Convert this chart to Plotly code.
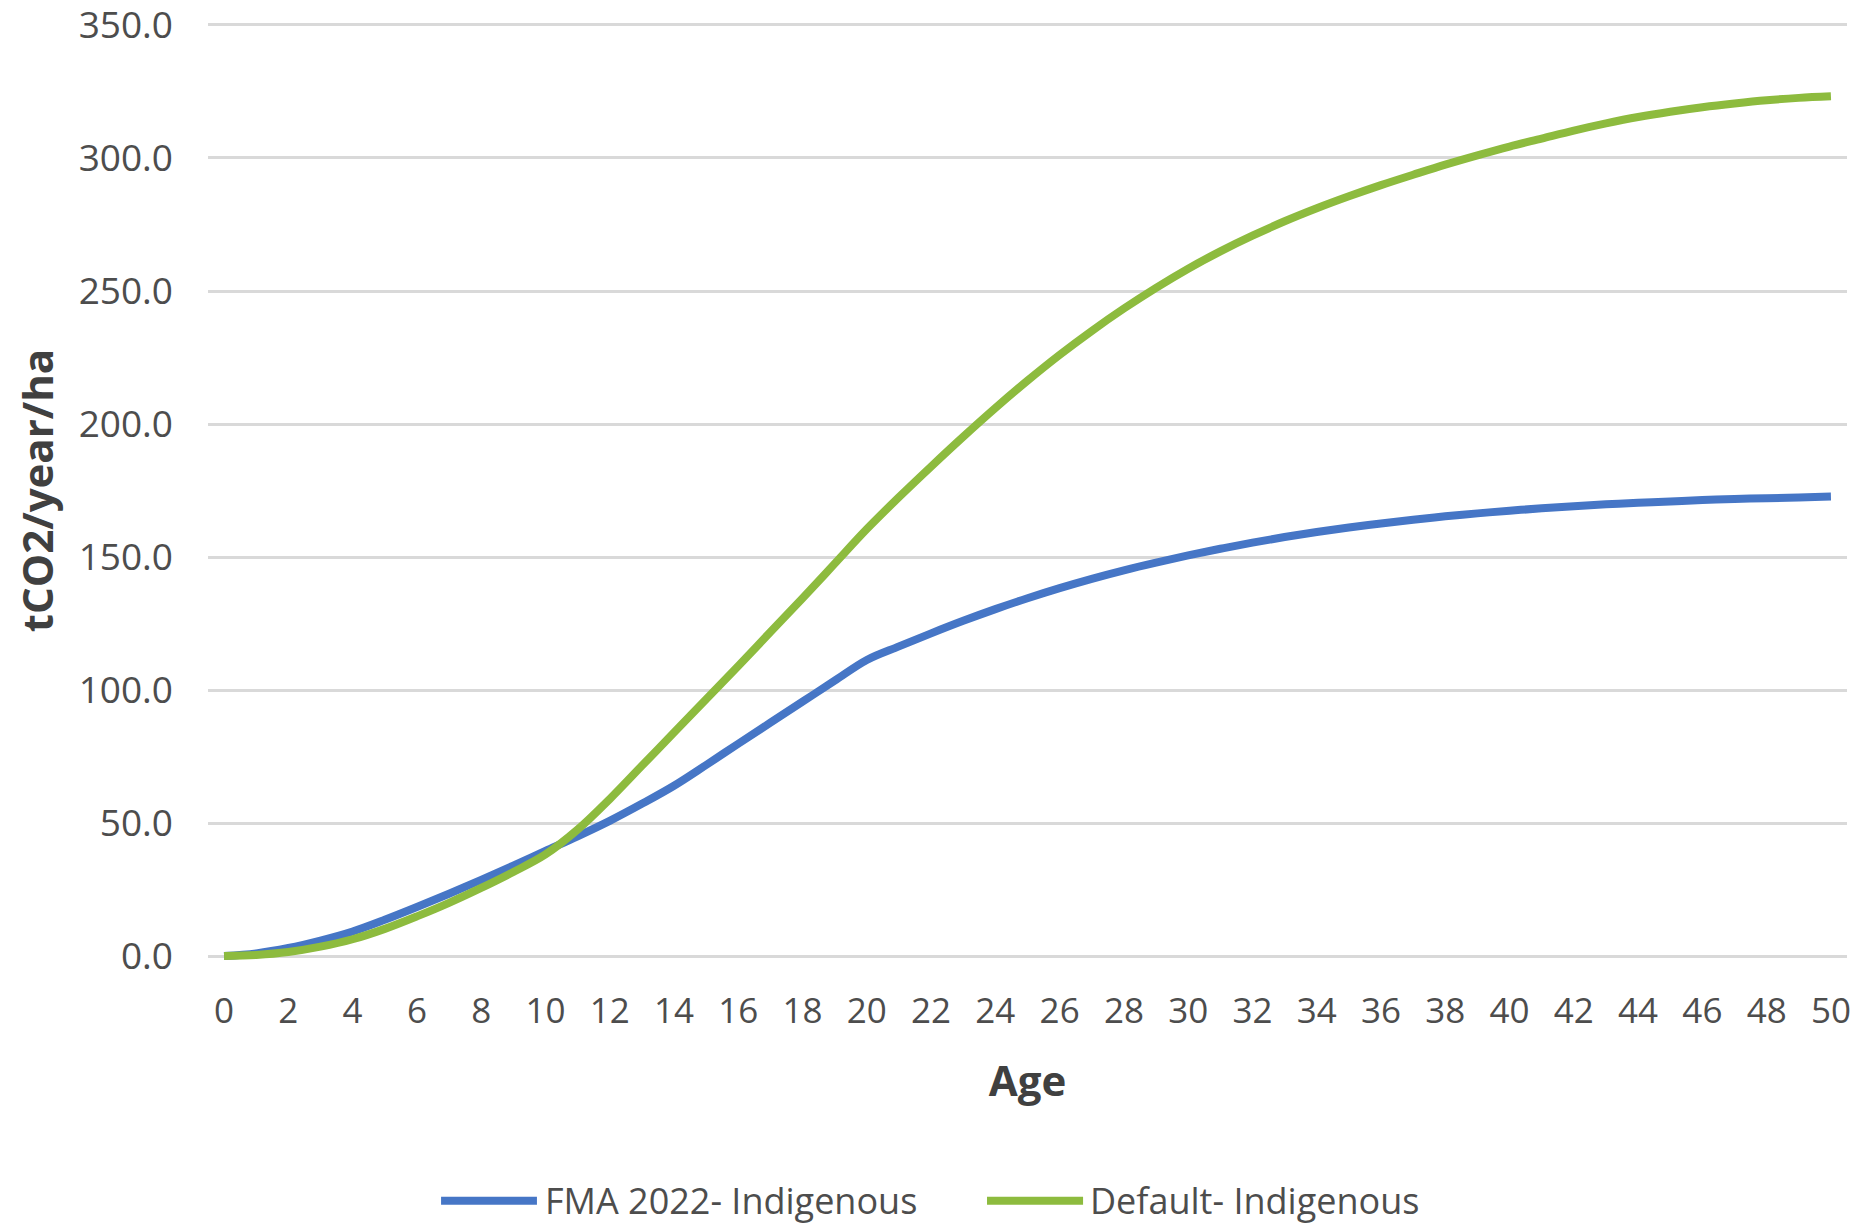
import plotly.graph_objects as go

ages = list(range(0, 51))

fma_2022_indigenous = [
    0.0, 1.0, 3.0, 5.8, 9.2, 13.6, 18.4, 23.4, 28.6, 34.0,
    39.5, 45.0, 50.8, 57.2, 64.0, 71.8, 79.8, 87.7, 95.6, 103.5,
    111.3, 116.4, 121.3, 126.0, 130.4, 134.5, 138.3, 141.8, 145.0, 147.9,
    150.6, 153.1, 155.4, 157.5, 159.4, 161.1, 162.6, 164.0, 165.3, 166.4,
    167.4, 168.3, 169.1, 169.8, 170.4, 170.9, 171.4, 171.8, 172.1, 172.4,
    172.7,
]

default_indigenous = [
    0.0, 0.4, 1.5, 3.5, 6.3, 10.2, 14.9, 20.0, 25.6, 31.6,
    38.2, 47.5, 59.0, 71.5, 84.0, 96.5, 109.0, 121.8, 134.5, 147.5,
    160.5, 172.5, 184.0, 195.2, 206.0, 216.3, 226.0, 235.0, 243.4, 251.2,
    258.4, 264.9, 270.8, 276.2, 281.1, 285.6, 289.8, 293.7, 297.5, 301.0,
    304.3, 307.3, 310.3, 313.0, 315.4, 317.4, 319.1, 320.5, 321.7, 322.6,
    323.2,
]

x_tick_vals = list(range(0, 51, 2))
y_tick_vals = [0, 50, 100, 150, 200, 250, 300, 350]
y_tick_text = [f"{v:.1f}" for v in y_tick_vals]

series_names = ["FMA 2022- Indigenous", "Default- Indigenous"]
series_colors = ["#4676C6", "#8DBB3E"]

FONT = "Open Sans, Lato, Liberation Sans, sans-serif"
TEXT_COLOR = "#4D4D4D"

fig = go.Figure()
for name, vals, col in zip(series_names, [fma_2022_indigenous, default_indigenous], series_colors):
    fig.add_trace(go.Scatter(
        x=ages, y=vals, name=name, mode="lines", showlegend=False,
        line=dict(color=col, width=8, shape="spline", smoothing=1),
    ))

# Manual legend (long line keys like the original), in paper coordinates
legend_y = -0.2565
legend_items = [
    (0.1422, 0.2007, 0.2044),
    (0.4753, 0.5339, 0.5369),
]
for (lx0, lx1, tx), name, col in zip(legend_items, series_names, series_colors):
    fig.add_shape(type="line", xref="paper", yref="paper",
                  x0=lx0, x1=lx1, y0=legend_y, y1=legend_y,
                  line=dict(color=col, width=8))
    fig.add_annotation(xref="paper", yref="paper", x=tx, y=legend_y,
                       xanchor="left", yanchor="middle", showarrow=False,
                       text=name, font=dict(family=FONT, size=36, color=TEXT_COLOR))

fig.update_layout(
    width=1870, height=1223,
    margin=dict(l=200, r=31, t=13, b=271, autoexpand=False),
    paper_bgcolor="white", plot_bgcolor="white",
    font=dict(family=FONT, size=36, color=TEXT_COLOR),
    showlegend=False,
)

fig.update_xaxes(
    range=[-0.5, 50.5],
    tickmode="array", tickvals=x_tick_vals, ticktext=[str(v) for v in x_tick_vals],
    showgrid=False, zeroline=False, showline=False, ticks="",
    ticklabelstandoff=27, ticklabeloverflow="allow",
    tickfont=dict(family=FONT, size=35, color=TEXT_COLOR),
    title=dict(text="<b>Age</b>", font=dict(family=FONT, size=42, color="#404040"), standoff=34),
)

fig.update_yaxes(
    range=[-1.5, 351.5],
    tickmode="array", tickvals=y_tick_vals, ticktext=y_tick_text,
    showgrid=True, gridcolor="#D9D9D9", gridwidth=2.5,
    zeroline=False, showline=False, ticks="",
    ticklabelstandoff=34, ticklabeloverflow="allow",
    tickfont=dict(family=FONT, size=37, color=TEXT_COLOR),
    title=dict(text="<b>tCO2/year/ha</b>", font=dict(family=FONT, size=42, color="#404040"), standoff=24),
)

fig.write_html("out.html")
